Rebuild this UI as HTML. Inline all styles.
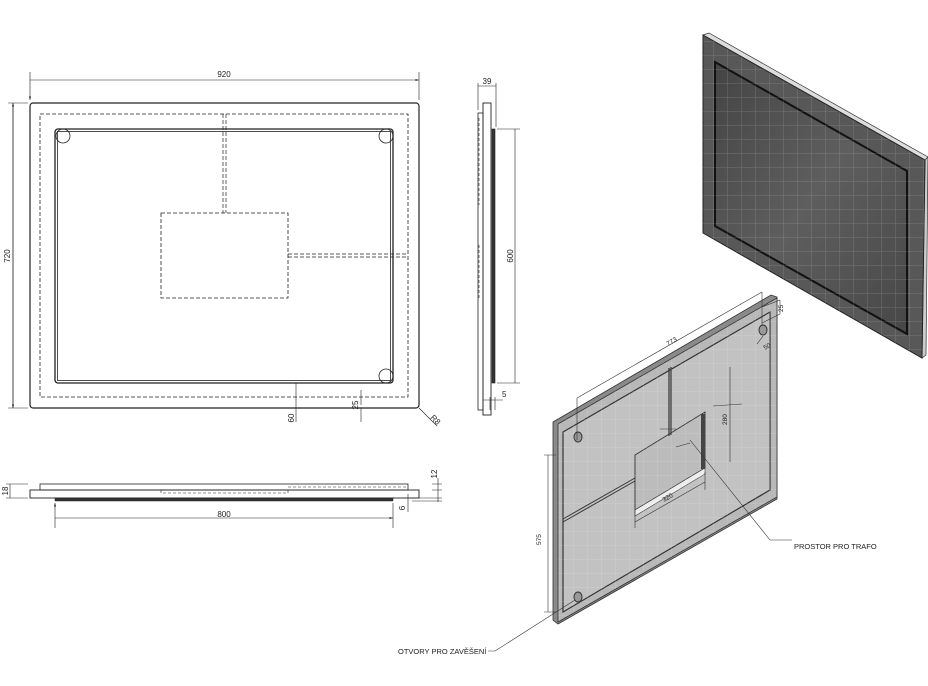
<!DOCTYPE html>
<html><head><meta charset="utf-8"><style>html,body{margin:0;padding:0;background:#fff}svg{display:block}text{font-family:"Liberation Sans",sans-serif;fill:#222}</style></head><body>
<svg width="928" height="686" viewBox="0 0 928 686" xmlns="http://www.w3.org/2000/svg">
<defs>
<marker id="a" viewBox="0 0 10 10" refX="10" refY="5" markerWidth="6" markerHeight="6" orient="auto-start-reverse"><path d="M0,2 L10,5 L0,8z" fill="#222"/></marker>
<pattern id="g" width="14" height="14" patternUnits="userSpaceOnUse"><path d="M14 0V14M0 14H14" stroke="#fff" stroke-opacity="0.2" stroke-width="1" fill="none"/></pattern>
<linearGradient id="mg" x1="0" y1="0" x2="1" y2="1"><stop offset="0" stop-color="#444"/><stop offset="0.5" stop-color="#5e5e5e"/><stop offset="1" stop-color="#474747"/></linearGradient>
</defs>
<g fill="none" stroke="#222" stroke-width="1">
<rect x="30" y="103" width="389" height="305" rx="3" stroke-width="1.2"/>
<rect x="40" y="114" width="368" height="283" stroke-dasharray="4,2" stroke-width="0.8"/>
<rect x="55" y="129" width="338" height="254" rx="3" stroke-width="1.3"/>
<rect x="57.5" y="131.5" width="333" height="249" stroke-width="0.8"/>
<circle cx="63" cy="136" r="7" stroke-width="0.8"/><circle cx="386" cy="136" r="7" stroke-width="0.8"/><circle cx="386" cy="376" r="7" stroke-width="0.8"/>
<rect x="161" y="213" width="127" height="85" stroke-dasharray="4,2" stroke-width="0.8"/>
<path d="M223 114V213M226 114V213M288 254H408M288 257H408" stroke-dasharray="4,2" stroke-width="0.7"/>
<path d="M30 100V72M419 100V72M30 80H419" stroke-width="0.6" marker-start="url(#a)" marker-end="url(#a)"/>
<path d="M28 103H8M28 408H8M13 103V408" stroke-width="0.6"/>
<path d="M13 103V408" stroke-width="0.6" marker-start="url(#a)" marker-end="url(#a)"/>
<path d="M296 383V422M361 390V405M361 408V422" stroke-width="0.6"/>
<path d="M419 408L437 426" stroke-width="0.6"/>
<rect x="478" y="113" width="5" height="297" stroke-width="0.8"/>
<rect x="483" y="103" width="8" height="312" stroke-width="0.9"/>
<rect x="492" y="129" width="3" height="254" fill="#333" stroke-width="0.6"/>
<path d="M479 118V205M479 245V300" stroke-dasharray="3,2" stroke-width="0.6"/>
<path d="M478 83V110M496 83V127M478 86H496" stroke-width="0.6"/>
<path d="M497 129H520M497 383H520M515 129V383" stroke-width="0.6"/>
<path d="M490 397V410M495 397V410M483 400H503" stroke-width="0.6"/>
<rect x="40" y="484" width="368" height="6" stroke-width="0.8"/>
<rect x="30" y="490" width="389" height="8" stroke-width="0.9"/>
<rect x="55" y="498" width="338" height="3" fill="#333" stroke-width="0.5"/>
<path d="M161 490V493H288V490M288 487H408" stroke-dasharray="3,2" stroke-width="0.6"/>
<path d="M10 484V498M6 484H28M6 498H28M438 478V502M432 484H442M432 490H442M412 498H442M412 501H442M408 494V512" stroke-width="0.6"/>
<path d="M55 503V528M393 503V528M55 518H393" stroke-width="0.6" marker-start="url(#a)" marker-end="url(#a)"/>
</g>
<g font-size="8">
<text x="224" y="77" text-anchor="middle">920</text>
<text transform="translate(10,256) rotate(-90)" text-anchor="middle">720</text>
<text transform="translate(294,418) rotate(-90)" text-anchor="middle">60</text>
<text transform="translate(358,405) rotate(-90)" text-anchor="middle">25</text>
<text transform="translate(430,418) rotate(45)">R8</text>
<text x="487" y="84" text-anchor="middle">39</text>
<text transform="translate(513,256) rotate(-90)" text-anchor="middle">600</text>
<text x="502" y="397">5</text>
<text x="224" y="517" text-anchor="middle">800</text>
<text transform="translate(8,491) rotate(-90)" text-anchor="middle">18</text>
<text transform="translate(437,474) rotate(-90)" text-anchor="middle">12</text>
<text transform="translate(405,508) rotate(-90)" text-anchor="middle">6</text>
</g>
<polygon points="703,35 709,33 928,157 925,160" fill="#ddd" stroke="#333" stroke-width="0.7"/>
<polygon points="925,160 928,157 926,355 922,358" fill="#ccc" stroke="#333" stroke-width="0.7"/>
<polygon points="703,35 925,160 922,358 703,233" fill="#585858" stroke="#222" stroke-width="1"/>
<polygon points="715,62 907,171 907,334 715,226" fill="url(#mg)" stroke="#111" stroke-width="2"/>
<polygon points="703,35 925,160 922,358 703,233" fill="url(#g)"/>
<polygon points="553,422 771,295 777,297 777,499 558,624 553,620" fill="#8a8a8a" stroke="#333" stroke-width="0.8"/>
<polygon points="558,424 777,298 777,497 558,622" fill="#b8b8b8" stroke="#333" stroke-width="0.8"/>
<polygon points="563,432 770,312 770,490 563,612" fill="#c2c2c2" stroke="#333" stroke-width="1.2"/>
<polygon points="635,455 705,412 705,468 635,510" fill="#bcbcbc" stroke="#333" stroke-width="0.9"/>
<polygon points="635,510 705,468 705,474 635,516" fill="#eee" stroke="#444" stroke-width="0.6"/>
<polygon points="558,424 777,298 777,497 558,622" fill="url(#g)"/>
<rect x="701" y="414" width="4" height="55" fill="#444"/>
<path d="M669 368V436M671 367V435" stroke="#333" stroke-width="1.2"/>
<path d="M563 519L635 478M563 522L635 481" stroke="#333" stroke-width="1"/>
<ellipse cx="578" cy="437" rx="4" ry="5" fill="#999" stroke="#333"/>
<ellipse cx="763" cy="330" rx="4" ry="5" fill="#999" stroke="#333"/>
<ellipse cx="578" cy="597" rx="4" ry="5" fill="#999" stroke="#333"/>
<g fill="none" stroke="#333" stroke-width="0.6">
<path d="M577 398L762 292M577 398V440M762 292V326"/>
<path d="M548 455V612M544 455H556M544 612H556"/>
<path d="M730 367V462M713 406L742 404"/>
<path d="M635 510V528M705 472V490M635 522L705 482"/>
<path d="M763 336L757 344M762 307L780 300M762 323L780 314M780 300V314"/>
<path d="M660 429L676 429M676 447L690 443"/>
<path d="M690 440L770 540H792"/>
<path d="M575 600L495 651H488"/>
</g>
<g font-size="6.5" fill="#333">
<text transform="translate(668,346) rotate(-30)">773</text>
<text transform="translate(727,425) rotate(-90)">280</text>
<text transform="translate(664,502) rotate(-30)">320</text>
<text transform="translate(541,545) rotate(-90)">575</text>
<text transform="translate(783,312) rotate(-90)">25</text>
<text transform="translate(765,350) rotate(-30)">50</text>
</g>
<text x="794" y="549" font-size="7.5">PROSTOR PRO TRAFO</text>
<text x="398" y="654" font-size="7.5">OTVORY PRO ZAVĚŠENÍ</text>
</svg>
</body></html>
